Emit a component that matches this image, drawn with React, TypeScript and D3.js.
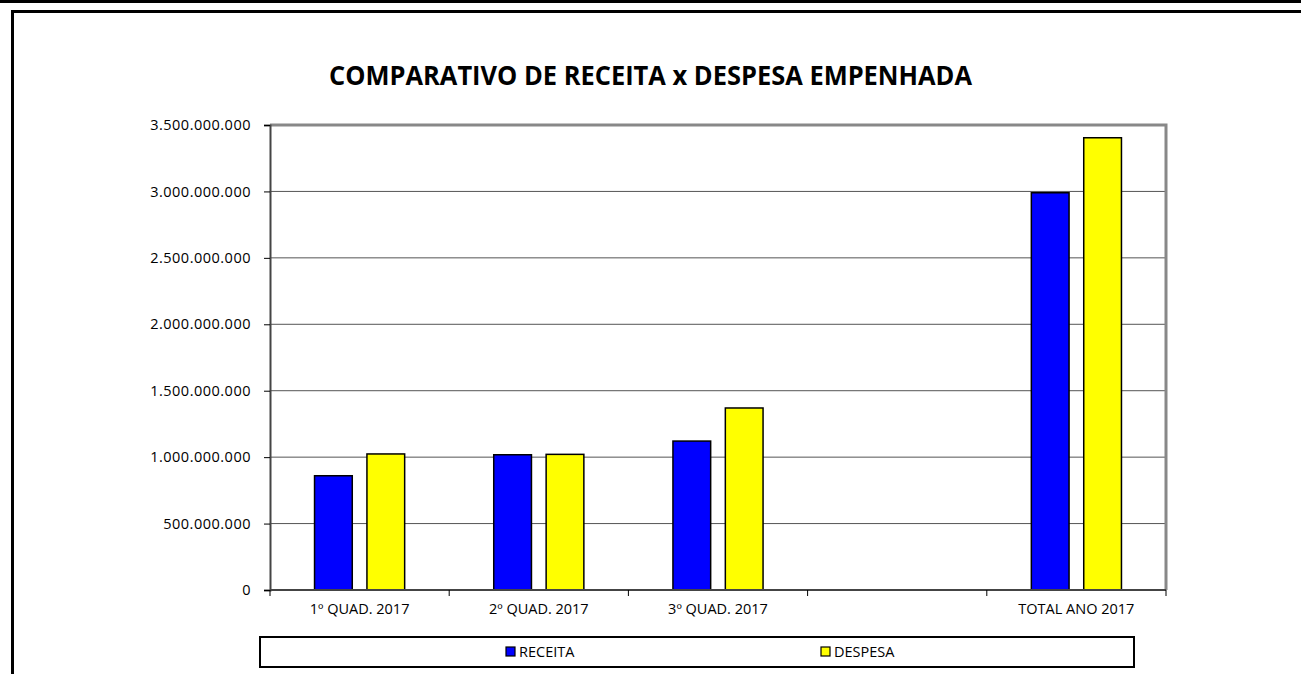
import { useEffect, useRef } from "react"
import * as d3 from "d3"

const categories = ["1º QUAD. 2017", "2º QUAD. 2017", "3º QUAD. 2017", "", "TOTAL ANO 2017"]
const series = ["RECEITA", "DESPESA"]
const receita = [860000000, 1018000000, 1121000000, null, 2990000000]
const despesa = [1024000000, 1021000000, 1370000000, null, 3404000000]
const colors = ["#0000ff", "#ffff00"]
const yTicks = [0, 500000000, 1000000000, 1500000000, 2000000000, 2500000000, 3000000000, 3500000000]

const FONT = "'Open Sans', sans-serif"

export default function App() {
  const svgRef = useRef<SVGSVGElement>(null)

  useEffect(() => {
    document.body.style.margin = "0"
    const svg = d3.select(svgRef.current!)
    svg.selectAll("*").remove()

    const W = 1301
    const H = 674
    const left = 270
    const right = 1166
    const top = 125
    const bottom = 590

    const locale = d3.formatLocale({ decimal: ",", thousands: ".", grouping: [3], currency: ["", ""] })
    const fmt = locale.format(",d")

    // outer frame
    svg.append("rect").attr("x", 0).attr("y", 0).attr("width", W).attr("height", 3).attr("fill", "#000")
    svg
      .append("path")
      .attr("d", `M${W + 5},11.5 H12.5 V${H + 5}`)
      .attr("fill", "none")
      .attr("stroke", "#000")
      .attr("stroke-width", 3)

    svg
      .append("text")
      .attr("x", 329)
      .attr("y", 85)
      .attr("textLength", 643)
      .attr("lengthAdjust", "spacingAndGlyphs")
      .attr("font-family", FONT)
      .attr("font-weight", 700)
      .attr("font-size", 26)
      .attr("fill", "#000")
      .text("COMPARATIVO DE RECEITA x DESPESA EMPENHADA")

    const x = d3.scaleBand<string>().domain(categories.map((_, i) => String(i))).range([left, right]).padding(0)
    const xs = d3.scaleBand<string>().domain(series).range([0, x.bandwidth()]).paddingInner(0.28).paddingOuter(0.85)
    const y = d3.scaleLinear().domain([0, 3500000000]).range([bottom, top])

    const g = svg.append("g")

    // gridlines
    g.selectAll("line.grid")
      .data(yTicks.slice(1, -1))
      .enter()
      .append("line")
      .attr("x1", left)
      .attr("x2", right)
      .attr("y1", (d) => y(d))
      .attr("y2", (d) => y(d))
      .attr("stroke", "#555")
      .attr("stroke-width", 1)

    // plot frame top/right
    g.append("path")
      .attr("d", `M${left},${top} H${right} V${bottom}`)
      .attr("fill", "none")
      .attr("stroke", "#888")
      .attr("stroke-width", 3)

    // bars
    const rows = categories.map((c, i) => ({ i, vals: [receita[i], despesa[i]] }))
    rows.forEach((r) => {
      r.vals.forEach((v, k) => {
        if (v == null) return
        g.append("rect")
          .attr("x", x(String(r.i))! + xs(series[k])!)
          .attr("y", y(v))
          .attr("width", xs.bandwidth())
          .attr("height", bottom - y(v))
          .attr("fill", colors[k])
          .attr("stroke", "#000")
          .attr("stroke-width", 1.5)
      })
    })

    // y axis
    const yAxis = g
      .append("g")
      .attr("transform", `translate(${left},0)`)
      .call(d3.axisLeft(y).tickValues(yTicks).tickFormat((d) => fmt(d as number)).tickSize(6).tickPadding(13))
    yAxis.select(".domain").attr("stroke", "#444").attr("stroke-width", 2)
    yAxis.selectAll(".tick line").attr("stroke", "#000")
    yAxis
      .selectAll("text")
      .attr("font-family", FONT)
      .attr("font-size", 14.5)
      .attr("letter-spacing", 0.5)
      .attr("fill", "#000")

    // x axis
    const xAxis = g.append("g").attr("transform", `translate(0,${bottom})`)
    xAxis
      .append("line")
      .attr("x1", left)
      .attr("x2", right)
      .attr("stroke", "#444")
      .attr("stroke-width", 2)
    xAxis
      .selectAll("line.tk")
      .data(d3.range(categories.length + 1))
      .enter()
      .append("line")
      .attr("x1", (d) => left + d * x.step())
      .attr("x2", (d) => left + d * x.step())
      .attr("y1", 0)
      .attr("y2", 6)
      .attr("stroke", "#000")
    xAxis
      .selectAll("text")
      .data(categories)
      .enter()
      .append("text")
      .attr("x", (_, i) => x(String(i))! + x.bandwidth() / 2)
      .attr("y", 24)
      .attr("text-anchor", "middle")
      .attr("font-family", FONT)
      .attr("font-size", 14.5)
      .attr("fill", "#000")
      .text((d) => d)

    // legend
    const lg = svg.append("g")
    lg.append("rect")
      .attr("x", 260)
      .attr("y", 637)
      .attr("width", 874)
      .attr("height", 30)
      .attr("fill", "#fff")
      .attr("stroke", "#000")
      .attr("stroke-width", 2)
    const legendX = [506, 821]
    series.forEach((s, k) => {
      lg.append("rect")
        .attr("x", legendX[k])
        .attr("y", 647)
        .attr("width", 9)
        .attr("height", 9)
        .attr("fill", colors[k])
        .attr("stroke", "#000")
        .attr("stroke-width", 1.2)
      lg.append("text")
        .attr("x", legendX[k] + 13)
        .attr("y", 657)
        .attr("font-family", FONT)
        .attr("font-size", 14.5)
        .attr("fill", "#000")
        .text(s)
    })
  }, [])

  return <svg ref={svgRef} width={1301} height={674} style={{ display: "block", background: "#fff" }} />
}
